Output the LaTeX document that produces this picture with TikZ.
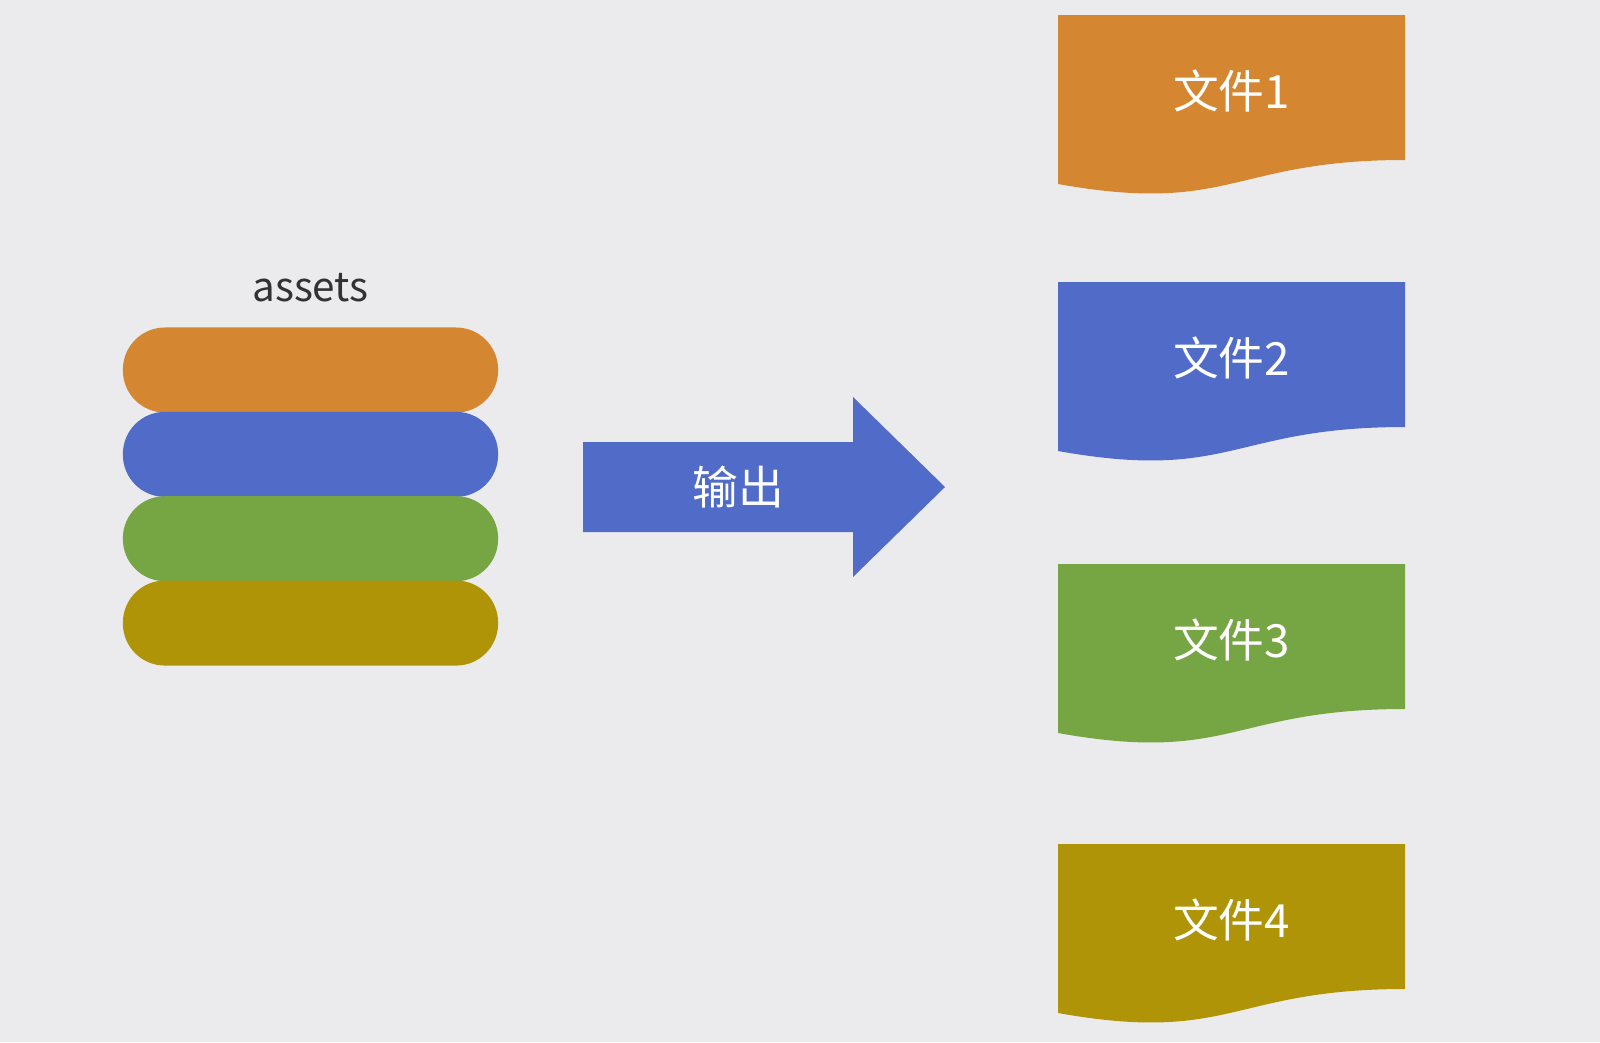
\documentclass[tikz,border=0pt]{standalone}
\usepackage{fontspec}
\setmainfont{Noto Sans CJK SC}
\usetikzlibrary{positioning}
\definecolor{bgGray}{RGB}{235,235,237}
\definecolor{cOrange}{RGB}{212,134,48}
\definecolor{cBlue}{RGB}{80,108,200}
\definecolor{cGreen}{RGB}{118,166,68}
\definecolor{cOlive}{RGB}{176,148,8}
\definecolor{txtGray}{RGB}{50,50,52}

\begin{document}
\begin{tikzpicture}[x=0.01cm, y=-0.01cm,
    pill/.style={rounded corners=4.2mm, minimum width=3.75cm, minimum height=0.85cm, inner sep=0pt},
    whitetext/.style={text=white, font=\fontsize{13}{15}\selectfont}]
    % Background
    \fill[bgGray] (0,0) rectangle (1600,1042);
    \useasboundingbox (0,0) rectangle (1600,1042);

    % Stack of assets
    \node[text=txtGray, font=\fontsize{11.5}{14}\selectfont] (assets) at (310.5,288) {assets};
    \node[pill, fill=cOrange] (asset1) at (310.5,370) {};
    \node[pill, fill=cBlue, below=-0.6pt of asset1] (asset2) {};
    \node[pill, fill=cGreen, below=-0.6pt of asset2] (asset3) {};
    \node[pill, fill=cOlive, below=-0.6pt of asset3] (asset4) {};

    % Big arrow
    \fill[cBlue] (583,442) -- (853,442) -- (853,397) -- (945,487)
        -- (853,577) -- (853,532) -- (583,532) -- cycle;
    \node[whitetext] (output) at (738,487) {输出};

    % Output files
    \foreach \ytop/\col/\n in {15/cOrange/1, 282/cBlue/2, 564/cGreen/3, 844/cOlive/4} {
        \fill[\col] (1058,\ytop) -- (1405,\ytop) -- (1405,\ytop+145)
            .. controls (1231.5,\ytop+145) and (1231.5,\ytop+200) .. (1058,\ytop+169) -- cycle;
        \node[whitetext] (file\n) at (1231.5,\ytop+76) {文件\n};
    }
\end{tikzpicture}
\end{document}
